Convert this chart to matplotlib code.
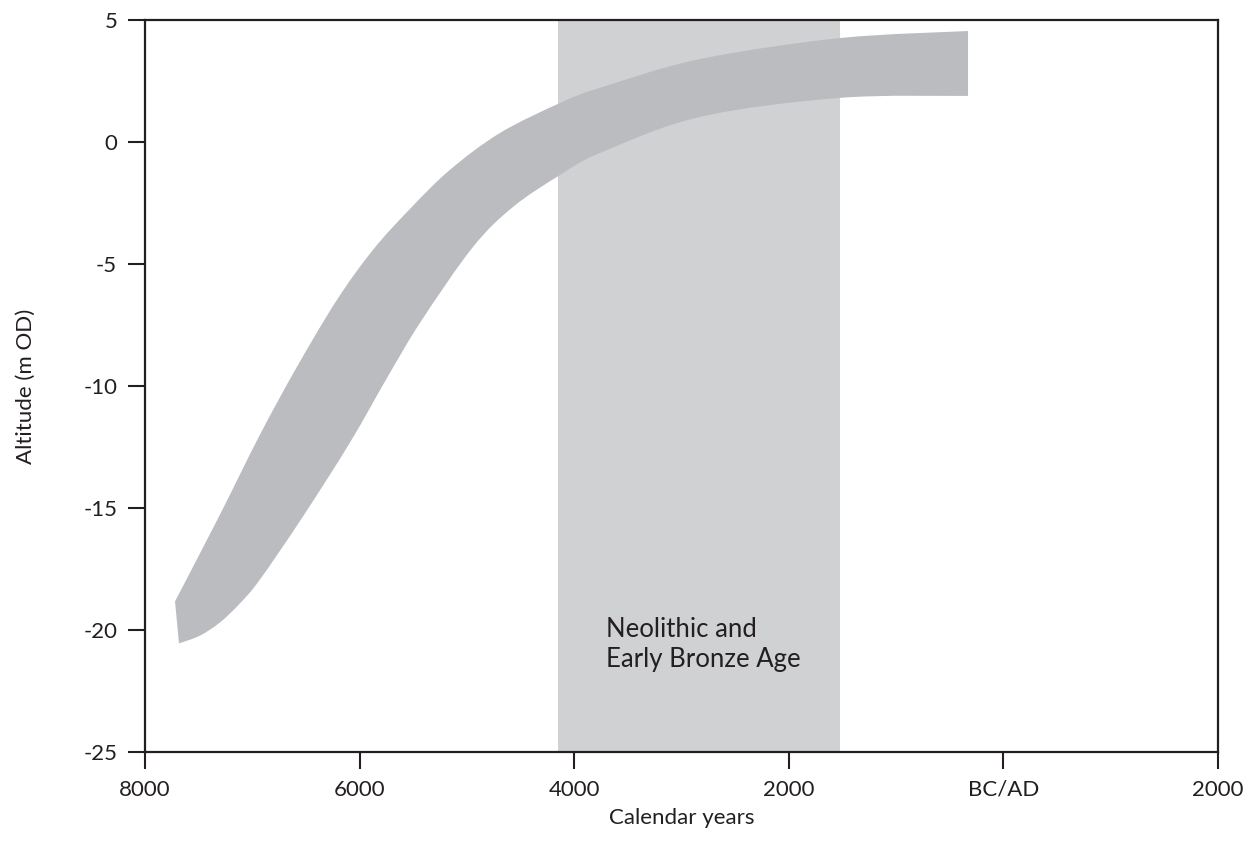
import matplotlib.pyplot as plt
import numpy as np
from matplotlib.path import Path
from matplotlib.patches import PathPatch

# sea-level band (year: negative = BC)
upper_x = [-7720, -7301, -6928, -6583, -6211, -5875, -5530, -5158, -4692, -4132, -3760, -2828, -1523, -330]
upper_y = [-18.83, -15.27, -11.99, -9.21, -6.47, -4.42, -2.74, -1.14, 0.37, 1.60, 2.22, 3.40, 4.26, 4.55]
lower_x = [-7683, -7487, -7301, -7115, -6928, -6528, -6090, -5717, -5419, -4943, -4570, -4132, -3760, -2828, -1523, -330]
lower_y = [-20.55, -20.23, -19.69, -18.91, -17.93, -15.35, -12.32, -9.46, -7.29, -4.30, -2.66, -1.35, -0.45, 1.03, 1.81, 1.89]

period_start = -4150
period_end = -1520
period_label = "Neolithic and\nEarly Bronze Age"

xticks = [-8000, -6000, -4000, -2000, 0, 2000]
xlabels = ["8000", "6000", "4000", "2000", "BC/AD", "2000"]
yticks = [5, 0, -5, -10, -15, -20, -25]

plt.rcParams['font.family'] = ['Lato', 'DejaVu Sans']
plt.rcParams['axes.unicode_minus'] = False
dark = "#231f20"


def smooth(xs, ys):
    # catmull-rom -> bezier segments so the band edges are not kinked
    pts = np.column_stack([xs, ys]).astype(float)
    verts = [tuple(pts[0])]
    codes = []
    n = len(pts)
    for i in range(n - 1):
        p0 = pts[max(i - 1, 0)]
        p1 = pts[i]
        p2 = pts[i + 1]
        p3 = pts[min(i + 2, n - 1)]
        c1 = p1 + (p2 - p0) / 6.0
        c2 = p2 - (p3 - p1) / 6.0
        verts += [tuple(c1), tuple(c2), tuple(p2)]
        codes += [Path.CURVE4] * 3
    return verts, codes


fig = plt.figure(figsize=(12.53, 8.49), dpi=100)
ax = fig.add_axes([0.1157, 0.1143, 0.8564, 0.8621])

ax.axvspan(period_start, period_end, color="#d0d1d3", lw=0, zorder=1)

uv, uc = smooth(upper_x, upper_y)
lv, lc = smooth(lower_x[::-1], lower_y[::-1])
verts = uv + lv + [uv[0]]
codes = [Path.MOVETO] + uc + [Path.LINETO] + lc + [Path.CLOSEPOLY]
ax.add_patch(PathPatch(Path(verts, codes), facecolor="#bbbcbf", edgecolor="none", zorder=2))

ax.text(-3700, -20.6, period_label, fontsize=18.5, color=dark, va="center", ha="left",
        linespacing=1.25, zorder=3)

ax.set_xlim(-8000, 2000)
ax.set_ylim(-25, 5)
ax.set_xticks(xticks)
ax.set_xticklabels(xlabels)
ax.set_yticks(yticks)
ax.tick_params(direction="out", length=12, width=1.5, color=dark, labelsize=16,
               labelcolor=dark, pad=8)
for s in ax.spines.values():
    s.set_linewidth(1.6)
    s.set_color(dark)

ax.set_xlabel("Calendar years", fontsize=16, color=dark, labelpad=6)
ax.set_ylabel("Altitude (m OD)", fontsize=16, color=dark, labelpad=34)

fig.savefig("out.png", dpi=100)
